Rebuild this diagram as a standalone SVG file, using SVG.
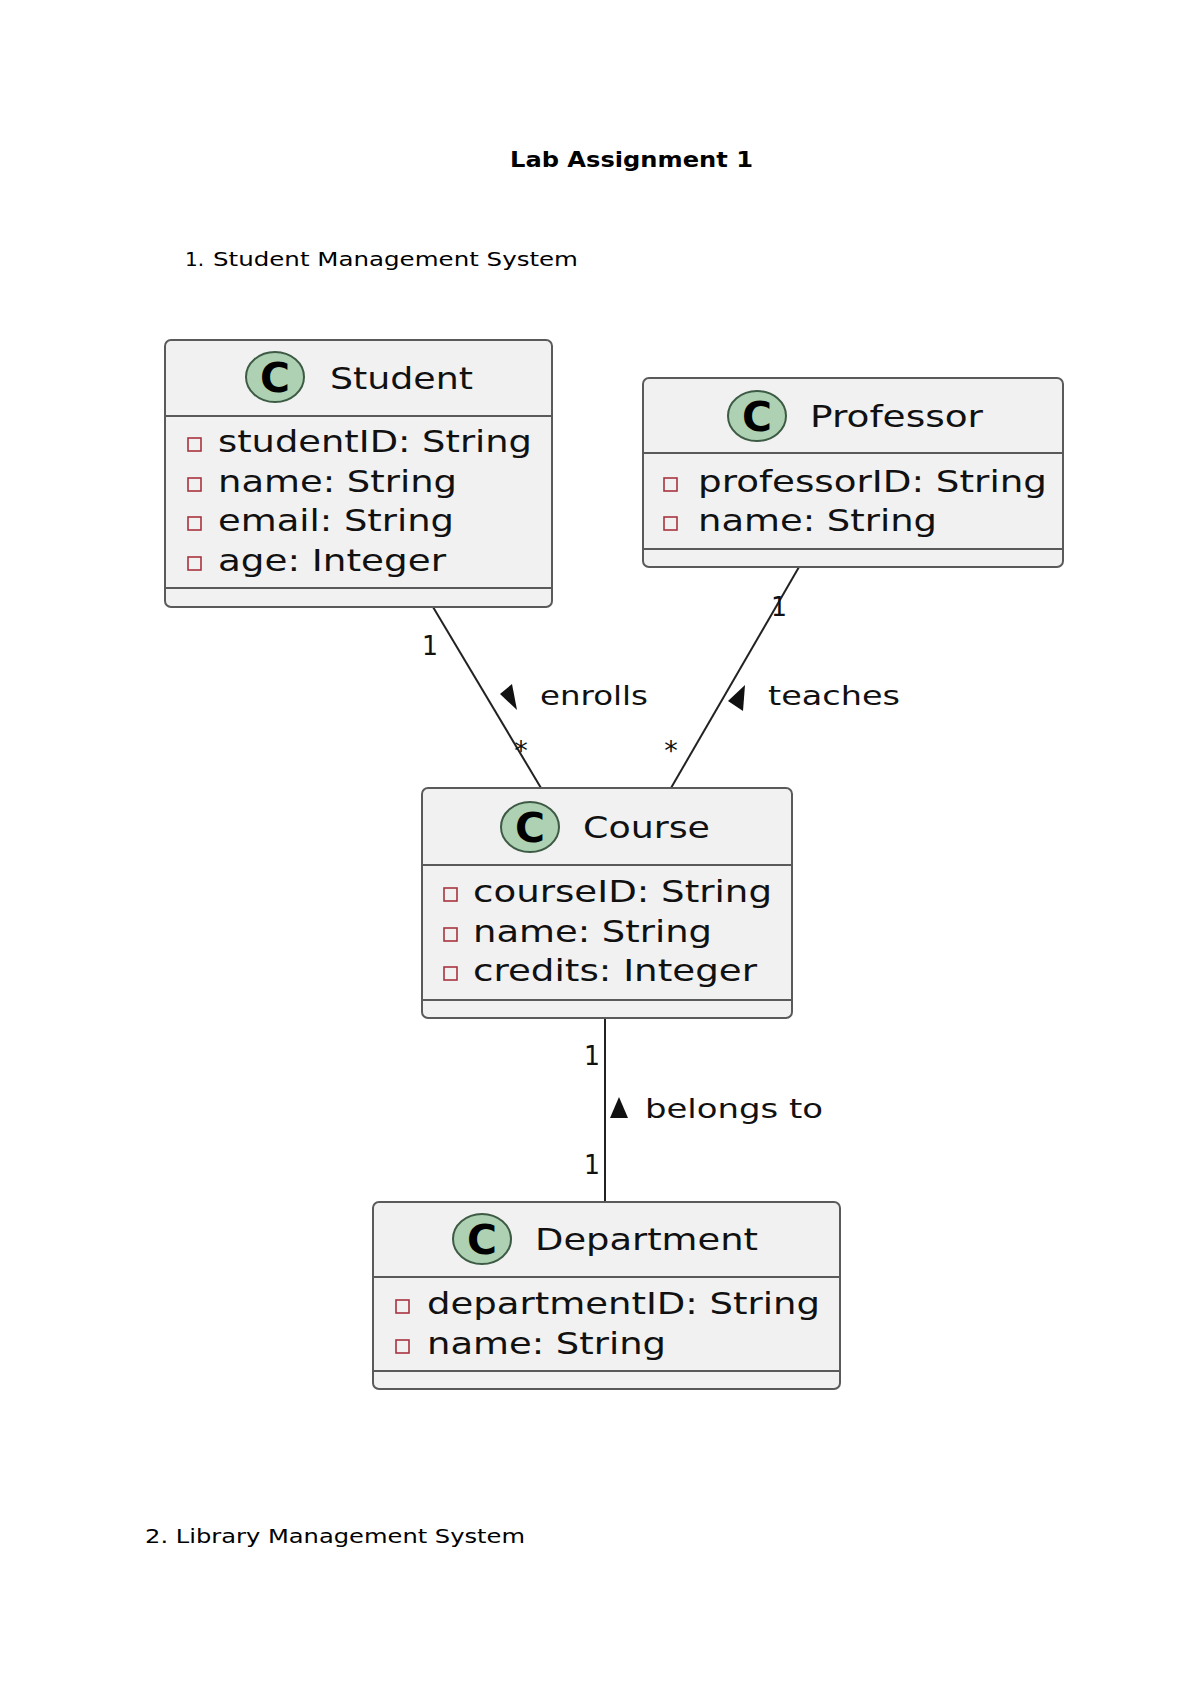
<svg xmlns="http://www.w3.org/2000/svg" width="1200" height="1696" viewBox="0 0 1200 1696">
<style>
.doc{font-family:"DejaVu Sans","Liberation Sans",sans-serif;fill:#000}
.box{fill:#F1F1F1;stroke:#5a5a5a;stroke-width:2}
.div{stroke:#5a5a5a;stroke-width:2}
.spot{fill:#ADD1B2;stroke:#3d5a44;stroke-width:2}
.spotc{font-family:"DejaVu Sans",sans-serif;font-weight:bold;font-size:40px;fill:#000;text-anchor:middle}
.cname{font-family:"DejaVu Sans",sans-serif;font-size:31px;fill:#111}
.attr{font-family:"DejaVu Sans",sans-serif;font-size:31px;fill:#111}
.priv{fill:none;stroke:#A8343F;stroke-width:1.6}
.conn{stroke:#222;stroke-width:2;fill:none}
.lbl{font-family:"DejaVu Sans",sans-serif;font-size:27px;fill:#111}
.tri{fill:#111}
</style>
<rect width="1200" height="1696" fill="#fff"/>
<text class="doc" x="510" y="167" font-size="21" font-weight="bold" textLength="243" lengthAdjust="spacingAndGlyphs">Lab Assignment 1</text>
<text class="doc" y="266" font-size="20"><tspan x="185">1.</tspan><tspan x="213" textLength="365" lengthAdjust="spacingAndGlyphs">Student Management System</tspan></text>
<text class="doc" x="145" y="1543" font-size="20" textLength="380" lengthAdjust="spacingAndGlyphs">2. Library Management System</text>

<g id="connectors">
<line class="conn" x1="433" y1="607" x2="541" y2="788"/>
<line class="conn" x1="799" y1="567" x2="671" y2="788"/>
<line class="conn" x1="605" y1="1018" x2="605" y2="1202"/>
<polygon class="tri" points="500,694 512,684 517,710"/>
<text class="lbl" x="540" y="705" textLength="108" lengthAdjust="spacingAndGlyphs">enrolls</text>
<text class="lbl" x="422" y="655" textLength="16" lengthAdjust="spacingAndGlyphs">1</text>
<text class="lbl" x="521" y="760" text-anchor="middle">*</text>
<polygon class="tri" points="728,701 745,685 743,711"/>
<text class="lbl" x="768" y="705" textLength="132" lengthAdjust="spacingAndGlyphs">teaches</text>
<text class="lbl" x="771" y="616" textLength="16" lengthAdjust="spacingAndGlyphs">1</text>
<text class="lbl" x="671" y="760" text-anchor="middle">*</text>
<polygon class="tri" points="619,1097 610,1118 628,1118"/>
<text class="lbl" x="645" y="1118" textLength="178" lengthAdjust="spacingAndGlyphs">belongs to</text>
<text class="lbl" x="584" y="1065" textLength="16" lengthAdjust="spacingAndGlyphs">1</text>
<text class="lbl" x="584" y="1174" textLength="16" lengthAdjust="spacingAndGlyphs">1</text>
</g>

<g id="Student">
<rect class="box" x="165" y="340" width="387" height="267" rx="6"/>
<line class="div" x1="165" y1="416" x2="552" y2="416"/>
<line class="div" x1="165" y1="588" x2="552" y2="588"/>
<ellipse class="spot" cx="275" cy="377" rx="29" ry="25"/>
<text class="spotc" x="275" y="392" textLength="30" lengthAdjust="spacingAndGlyphs">C</text>
<text class="cname" x="330" y="389" textLength="143" lengthAdjust="spacingAndGlyphs">Student</text>
<rect class="priv" x="188" y="438" width="13" height="13"/>
<rect class="priv" x="188" y="478" width="13" height="13"/>
<rect class="priv" x="188" y="517" width="13" height="13"/>
<rect class="priv" x="188" y="557" width="13" height="13"/>
<text class="attr" x="218" y="452" textLength="314" lengthAdjust="spacingAndGlyphs">studentID: String</text>
<text class="attr" x="218" y="492" textLength="239" lengthAdjust="spacingAndGlyphs">name: String</text>
<text class="attr" x="218" y="531" textLength="236" lengthAdjust="spacingAndGlyphs">email: String</text>
<text class="attr" x="218" y="571" textLength="228" lengthAdjust="spacingAndGlyphs">age: Integer</text>
</g>

<g id="Professor">
<rect class="box" x="643" y="378" width="420" height="189" rx="6"/>
<line class="div" x1="643" y1="453" x2="1063" y2="453"/>
<line class="div" x1="643" y1="549" x2="1063" y2="549"/>
<ellipse class="spot" cx="757" cy="416" rx="29" ry="25"/>
<text class="spotc" x="757" y="431" textLength="30" lengthAdjust="spacingAndGlyphs">C</text>
<text class="cname" x="810" y="427" textLength="173" lengthAdjust="spacingAndGlyphs">Professor</text>
<rect class="priv" x="664" y="478" width="13" height="13"/>
<rect class="priv" x="664" y="517" width="13" height="13"/>
<text class="attr" x="698" y="492" textLength="349" lengthAdjust="spacingAndGlyphs">professorID: String</text>
<text class="attr" x="698" y="531" textLength="239" lengthAdjust="spacingAndGlyphs">name: String</text>
</g>

<g id="Course">
<rect class="box" x="422" y="788" width="370" height="230" rx="6"/>
<line class="div" x1="422" y1="865" x2="792" y2="865"/>
<line class="div" x1="422" y1="1000" x2="792" y2="1000"/>
<ellipse class="spot" cx="530" cy="827" rx="29" ry="25"/>
<text class="spotc" x="530" y="842" textLength="30" lengthAdjust="spacingAndGlyphs">C</text>
<text class="cname" x="583" y="838" textLength="127" lengthAdjust="spacingAndGlyphs">Course</text>
<rect class="priv" x="444" y="888" width="13" height="13"/>
<rect class="priv" x="444" y="928" width="13" height="13"/>
<rect class="priv" x="444" y="967" width="13" height="13"/>
<text class="attr" x="473" y="902" textLength="299" lengthAdjust="spacingAndGlyphs">courseID: String</text>
<text class="attr" x="473" y="942" textLength="239" lengthAdjust="spacingAndGlyphs">name: String</text>
<text class="attr" x="473" y="981" textLength="284" lengthAdjust="spacingAndGlyphs">credits: Integer</text>
</g>

<g id="Department">
<rect class="box" x="373" y="1202" width="467" height="187" rx="6"/>
<line class="div" x1="373" y1="1277" x2="840" y2="1277"/>
<line class="div" x1="373" y1="1371" x2="840" y2="1371"/>
<ellipse class="spot" cx="482" cy="1239" rx="29" ry="25"/>
<text class="spotc" x="482" y="1254" textLength="30" lengthAdjust="spacingAndGlyphs">C</text>
<text class="cname" x="535" y="1250" textLength="223" lengthAdjust="spacingAndGlyphs">Department</text>
<rect class="priv" x="396" y="1300" width="13" height="13"/>
<rect class="priv" x="396" y="1340" width="13" height="13"/>
<text class="attr" x="427" y="1314" textLength="393" lengthAdjust="spacingAndGlyphs">departmentID: String</text>
<text class="attr" x="427" y="1354" textLength="239" lengthAdjust="spacingAndGlyphs">name: String</text>
</g>
</svg>
